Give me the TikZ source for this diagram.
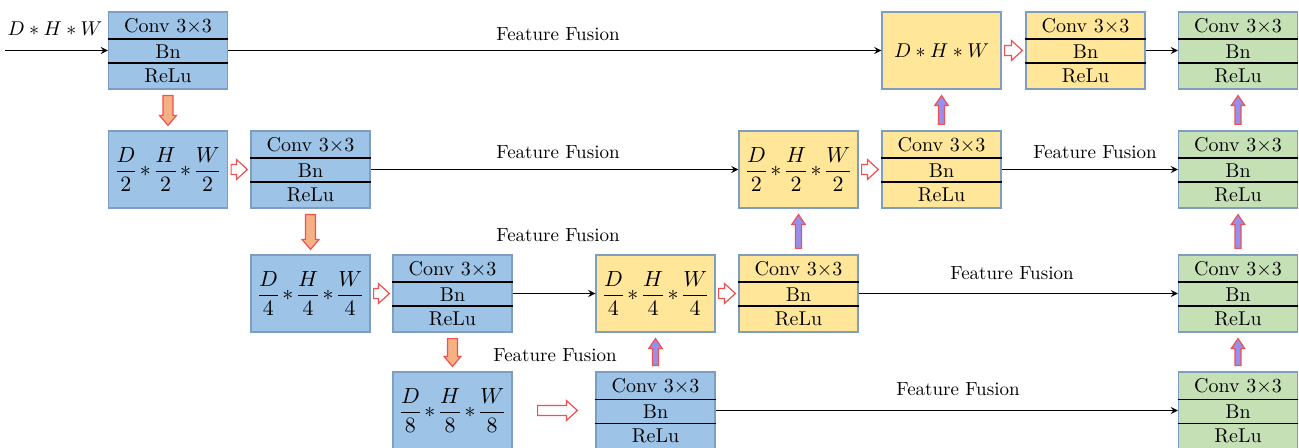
\documentclass[tikz,border=0pt]{standalone}
\usetikzlibrary{calc}

\definecolor{boxblue}{HTML}{9DC3E6}
\definecolor{boxyellow}{HTML}{FFE699}
\definecolor{boxgreen}{HTML}{C5E0B4}
\definecolor{boxedge}{HTML}{7F9DC0}
\definecolor{downfill}{HTML}{F4B183}
\definecolor{upfill}{HTML}{9490F0}
\definecolor{arrowred}{HTML}{F05050}

\tikzset{
  blk/.style={draw=boxedge,line width=0.6pt,minimum width=59.5pt,minimum height=38.5pt,inner sep=0pt,font=\fontsize{10.5}{12.5}\selectfont},
  sep/.style={line width=0.9pt},
  lbl/.style={inner sep=0pt,font=\fontsize{10}{12}\selectfont},
  fusion/.style={inner sep=0pt,font=\fontsize{9.5}{11}\selectfont},
  fat/.style={draw=arrowred,line width=0.6pt,line join=miter},
  downfat/.style={fat,fill=downfill},
  upfat/.style={fat,fill=upfill},
  hollowfat/.style={fat,fill=white},
  link/.style={->,line width=0.6pt},
}

% conv block: name, position, fill
\newcommand{\convbox}[3]{%
  \node[blk,fill=#3] (#1) at (#2) {};
  \draw[sep] ([yshift=-14pt]#1.north west) -- ([yshift=-14pt]#1.north east);
  \draw[sep] ([yshift=-26pt]#1.north west) -- ([yshift=-26pt]#1.north east);
  \node[lbl] (#1-c) at ([yshift=-7pt]#1.north) {Conv 3×3};
  \node[lbl] (#1-b) at ([yshift=-20pt]#1.north) {Bn};
  \node[lbl] (#1-r) at ([yshift=-32.3pt]#1.north) {ReLu};
}
\newcommand{\dims}[1]{\medmuskip=3mu\nulldelimiterspace=0.5pt
  $\displaystyle\frac{D}{#1}*\frac{H}{#1}*\frac{W}{#1}$}

% block arrow: style, tail, tip, shaft half width, head half width, head length
\newcommand{\fatarrow}[6]{%
  \coordinate (fa-t) at (#2);
  \coordinate (fa-p) at (#3);
  \coordinate (fa-h) at ($(fa-p)!#6!(fa-t)$);
  \draw[#1] ($(fa-t)!#4!90:(fa-p)$) -- ($(fa-h)!#4!-90:(fa-t)$) -- ($(fa-h)!#5!-90:(fa-t)$)
    -- (fa-p) -- ($(fa-h)!#5!90:(fa-t)$) -- ($(fa-h)!#4!90:(fa-t)$) -- ($(fa-t)!#4!-90:(fa-p)$) -- cycle;
}
\newcommand{\downsample}[2]{\fatarrow{downfat}{$(#1.south)!3pt!(#2.north)$}{$(#2.north)!2.5pt!(#1.south)$}{2.5pt}{4.25pt}{5pt}}
\newcommand{\upsample}[2]{\fatarrow{upfat}{$(#1.north)!3pt!(#2.south)$}{$(#2.south)!3pt!(#1.north)$}{1.5pt}{3.4pt}{5pt}}
\newcommand{\pass}[4]{\fatarrow{hollowfat}{$(#1.east)!#3!(#2.west)$}{$(#2.west)!#4!(#1.east)$}{2.5pt}{5pt}{5.5pt}}

\begin{document}
\begin{tikzpicture}[x=0.5pt,y=-0.5pt,>=stealth]
\useasboundingbox (0,0) rectangle (1299,448);

% encoder (blue)
\convbox{bc1}{168,50.5}{boxblue}
\node[blk,fill=boxblue] (bf2) at (168,169.5) {\dims{2}};
\convbox{bc2}{310.5,169.5}{boxblue}
\node[blk,fill=boxblue] (bf3) at (310.5,293.5) {\dims{4}};
\convbox{bc3}{452.5,293.5}{boxblue}
\node[blk,fill=boxblue] (bf4) at (452.5,410.5) {\dims{8}};
\convbox{bc4}{655.5,410.5}{boxblue}

% decoder (yellow)
\node[blk,fill=boxyellow,font=\fontsize{10}{12}\selectfont] (yf1) at (941.5,50.5) {$D*H*W$};
\convbox{yc1}{1085.5,50.5}{boxyellow}
\node[blk,fill=boxyellow] (yf2) at (798.5,169.5) {\dims{2}};
\convbox{yc2}{941.5,169.5}{boxyellow}
\node[blk,fill=boxyellow] (yf3) at (655.5,293.5) {\dims{4}};
\convbox{yc3}{798.5,293.5}{boxyellow}

% output column (green)
\convbox{g1}{1238,50.5}{boxgreen}
\convbox{g2}{1238,169.5}{boxgreen}
\convbox{g3}{1238,293.5}{boxgreen}
\convbox{g4}{1238,410.5}{boxgreen}

% input
\node[lbl] (inlab) at (55,29) {$D*H*W$};
\coordinate (in) at (5,50.5);
\draw[link] (in) -- (bc1);

% skip connections
\draw[link] (bc1) -- (yf1);
\draw[link] (yc1) -- (g1);
\draw[link] (bc2) -- (yf2);
\draw[link] (yc2) -- (g2);
\draw[link] (bc3) -- (yf3);
\draw[link] (yc3) -- (g3);
\draw[link] (bc4) -- (g4);

\node[fusion] (ff1) at (558,34) {Feature Fusion};
\node[fusion] (ff2) at (558,152) {Feature Fusion};
\node[fusion] (ff3) at (1095,152) {Feature Fusion};
\node[fusion] (ff4) at (558,235) {Feature Fusion};
\node[fusion] (ff5) at (1012,273) {Feature Fusion};
\node[fusion] (ff6) at (555,355) {Feature Fusion};
\node[fusion] (ff7) at (958,389) {Feature Fusion};

% down sampling
\downsample{bc1}{bf2}
\downsample{bc2}{bf3}
\downsample{bc3}{bf4}

% up sampling
\upsample{bc4}{yf3}
\upsample{yc3}{yf2}
\upsample{yc2}{yf1}
\upsample{g4}{g3}
\upsample{g3}{g2}
\upsample{g2}{g1}

% hollow arrows
\pass{bf2}{bc2}{1.5pt}{1.5pt}
\pass{bf3}{bc3}{1.5pt}{1.5pt}
\pass{bf4}{bc4}{12.5pt}{9pt}
\pass{yf1}{yc1}{1.5pt}{1.5pt}
\pass{yf2}{yc2}{1.5pt}{1.5pt}
\pass{yf3}{yc3}{1.5pt}{1.5pt}
\end{tikzpicture}
\end{document}
